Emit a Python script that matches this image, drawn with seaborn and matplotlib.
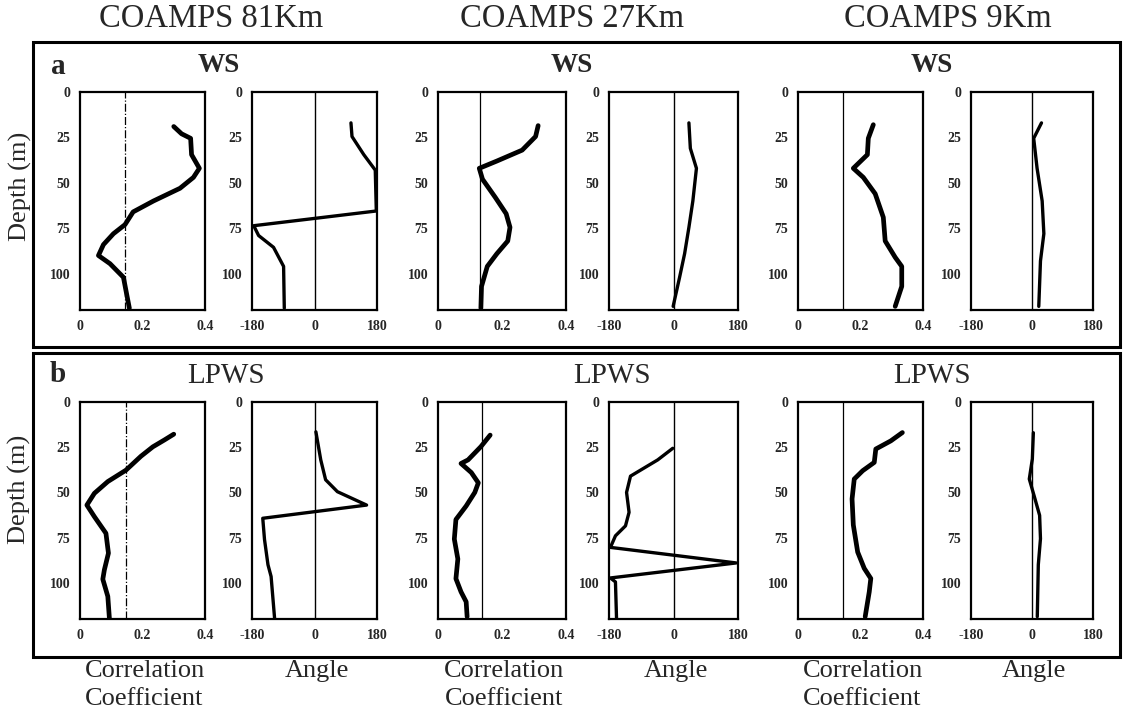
import matplotlib
matplotlib.use("Agg")
import matplotlib.pyplot as plt
import pandas as pd
import seaborn as sns
from matplotlib.patches import Rectangle

# ---- data (x value, depth in m) ----
columns = ["COAMPS 81Km", "COAMPS 27Km", "COAMPS 9Km"]
row_titles = ["WS", "LPWS"]
row_letters = ["a", "b"]

# row a: WS
ws81_corr = [0.30, 0.325, 0.354, 0.357, 0.382, 0.363, 0.32, 0.235, 0.17, 0.144, 0.107, 0.075, 0.059, 0.096, 0.139, 0.149, 0.158]
ws81_corr_depth = [19, 23, 25.5, 34.5, 42, 47, 53, 60, 66, 73, 78, 84, 90, 94.5, 102, 111, 119]
ws81_ang = [105, 108, 142, 175, 178, -175, -161, -118, -89, -87]
ws81_ang_depth = [17, 24.5, 34.5, 43, 65.5, 73.6, 79, 85.5, 96, 119]

ws27_corr = [0.313, 0.305, 0.263, 0.184, 0.129, 0.139, 0.179, 0.213, 0.225, 0.218, 0.184, 0.154, 0.136, 0.134]
ws27_corr_depth = [18.5, 24.5, 32, 38, 42, 48, 58, 67, 74.5, 82, 89, 96, 107, 119]
ws27_ang = [43, 47, 64, 54, 43, 31, 17, -1]
ws27_ang_depth = [17, 31, 42, 60, 74.5, 89, 102, 118]

ws9_corr = [0.241, 0.225, 0.222, 0.177, 0.209, 0.247, 0.273, 0.279, 0.311, 0.332, 0.332, 0.311]
ws9_corr_depth = [18, 25.5, 34.5, 42, 47, 56, 69, 82, 91, 96, 107, 118]
ws9_ang = [28, 5, 15, 30, 35, 25, 20]
ws9_ang_depth = [17, 25.5, 42, 60, 78, 93, 118]

# row b: LPWS
lp81_corr = [0.30, 0.27, 0.233, 0.195, 0.147, 0.089, 0.046, 0.022, 0.046, 0.083, 0.091, 0.078, 0.073, 0.089, 0.094]
lp81_corr_depth = [17.8, 21, 24.8, 30, 37.7, 44, 50.5, 57, 63.4, 72.6, 83.6, 92.8, 98, 107.5, 119.5]
lp81_ang = [4, 18, 32, 66, 150, -149, -144, -134, -125, -115]
lp81_ang_depth = [16.5, 32, 43, 49.6, 57, 64.3, 76, 90, 96.5, 119.5]

lp27_corr = [0.163, 0.134, 0.094, 0.072, 0.104, 0.126, 0.115, 0.088, 0.056, 0.051, 0.062, 0.056, 0.072, 0.088, 0.091]
lp27_corr_depth = [18.3, 24.7, 32, 34, 39, 44.7, 50, 57.5, 65, 75.8, 86.8, 97.7, 105, 110.5, 118.7]
lp27_ang = [-2, -44, -120, -131, -124, -134, -162, -176, 175, -176, -162, -159]
lp27_ang_depth = [25.6, 32, 41, 50, 61, 68.5, 74, 80.4, 89, 97.3, 99.5, 119.6]

lp9_corr = [0.334, 0.297, 0.249, 0.244, 0.207, 0.180, 0.173, 0.177, 0.191, 0.212, 0.233, 0.228, 0.215]
lp9_corr_depth = [16.9, 21.5, 26, 33.4, 38, 42.6, 53.6, 68, 83, 92, 97.6, 105, 118.7]
lp9_ang = [4, 1, -8, 6, 22.5, 25, 18.6, 15.6]
lp9_ang_depth = [17, 31.5, 42.6, 51.7, 62.7, 75.6, 90, 118.7]

# significance level of the correlation, per panel
sig_levels = [[0.144, 0.13, 0.145], [0.147, 0.139, 0.145]]

corr_ticks = [0, 0.2, 0.4]
corr_ticklabels = ["0", "0.2", "0.4"]
ang_ticks = [-180, 0, 180]
ang_ticklabels = ["-180", "0", "180"]
depth_ticks = [0, 25, 50, 75, 100]

panels = [
    [(ws81_corr, ws81_corr_depth, ws81_ang, ws81_ang_depth),
     (ws27_corr, ws27_corr_depth, ws27_ang, ws27_ang_depth),
     (ws9_corr, ws9_corr_depth, ws9_ang, ws9_ang_depth)],
    [(lp81_corr, lp81_corr_depth, lp81_ang, lp81_ang_depth),
     (lp27_corr, lp27_corr_depth, lp27_ang, lp27_ang_depth),
     (lp9_corr, lp9_corr_depth, lp9_ang, lp9_ang_depth)],
]

sns.set_style("white")
plt.rcParams["font.family"] = ["Liberation Serif", "DejaVu Serif"]

W, H = 1126, 717
fig = plt.figure(figsize=(W / 100, H / 100), dpi=100)


def fx(px):
    return px / W


def fy(py):
    return 1 - py / H


# pixel layout of the 12 panels
col_left = [(80, 205), (252, 377), (438, 566), (609, 738), (798, 923), (971, 1093)]
row_top = [(92, 310), (402, 619)]

for r in range(2):
    top, bottom = row_top[r]
    for c in range(3):
        corr, corr_d, ang, ang_d = panels[r][c]
        for k in range(2):
            left, right = col_left[2 * c + k]
            ax = fig.add_axes([fx(left), fy(bottom), fx(right - left), (bottom - top) / H])
            if k == 0:
                ls = "-." if c == 0 else "-"
                ax.axvline(sig_levels[r][c], color="black", lw=0.9, ls=ls)
                df = pd.DataFrame({"x": corr, "depth": corr_d})
                sns.lineplot(data=df, x="x", y="depth", sort=False, estimator=None,
                             color="black", lw=3.4, ax=ax)
                ax.set_xlim(0, 0.4)
                ax.set_xticks(corr_ticks)
                ax.set_xticklabels(corr_ticklabels)
            else:
                ax.axvline(0, color="black", lw=1.0)
                df = pd.DataFrame({"x": ang, "depth": ang_d})
                sns.lineplot(data=df, x="x", y="depth", sort=False, estimator=None,
                             color="black", lw=2.4, ax=ax)
                ax.set_xlim(-180, 180)
                ax.set_xticks(ang_ticks)
                ax.set_xticklabels(ang_ticklabels)
            ax.set_ylim(120, 0)
            ax.set_yticks(depth_ticks)
            ax.set_xlabel("")
            ax.set_ylabel("")
            ax.tick_params(length=0, pad=7, labelsize=10)
            for lab in ax.get_xticklabels() + ax.get_yticklabels():
                lab.set_fontweight("bold")
            for sp in ax.spines.values():
                sp.set_color("black")
                sp.set_linewidth(1.6)

# frames around the two rows
for (y0, y1) in [(42, 347), (353, 657)]:
    fig.patches.append(Rectangle((fx(33), fy(y1)), fx(1120 - 33), (y1 - y0) / H,
                                 transform=fig.transFigure, fill=False,
                                 edgecolor="black", lw=2.2))

# column headers
for name, cx in zip(columns, [211, 572, 948]):
    fig.text(fx(cx), fy(19), name, ha="center", va="center", fontsize=23.5)

# row titles
title_x = [[219, 572, 932], [226, 612, 932]]
for r, (ttl, yy) in enumerate(zip(row_titles, [66, 376])):
    for c in range(3):
        fig.text(fx(title_x[r][c]), fy(yy), ttl, ha="center", va="center",
                 fontsize=21 if r == 1 else 19.5, fontweight="bold" if r == 0 else "normal")
fig.text(fx(58), fy(66), row_letters[0], ha="center", va="center", fontsize=21, fontweight="bold")
fig.text(fx(58), fy(374), row_letters[1], ha="center", va="center", fontsize=21, fontweight="bold")

# depth labels
fig.text(fx(20), fy(186), "Depth (m)", rotation=90, ha="center", va="center", fontsize=19)
fig.text(fx(19), fy(489), "Depth (m)", rotation=90, ha="center", va="center", fontsize=19)

# bottom axis names
for c in range(3):
    l0, r0 = col_left[2 * c]
    l1, r1 = col_left[2 * c + 1]
    fig.text(fx((l0 + r0) / 2 + 2), fy(671), "Correlation", ha="center", va="center", fontsize=19)
    fig.text(fx((l0 + r0) / 2 + 2), fy(699), "Coefficient", ha="center", va="center", fontsize=19)
    fig.text(fx((l1 + r1) / 2 + 2), fy(671), "Angle", ha="center", va="center", fontsize=19)

fig.savefig("out.png", dpi=100)
